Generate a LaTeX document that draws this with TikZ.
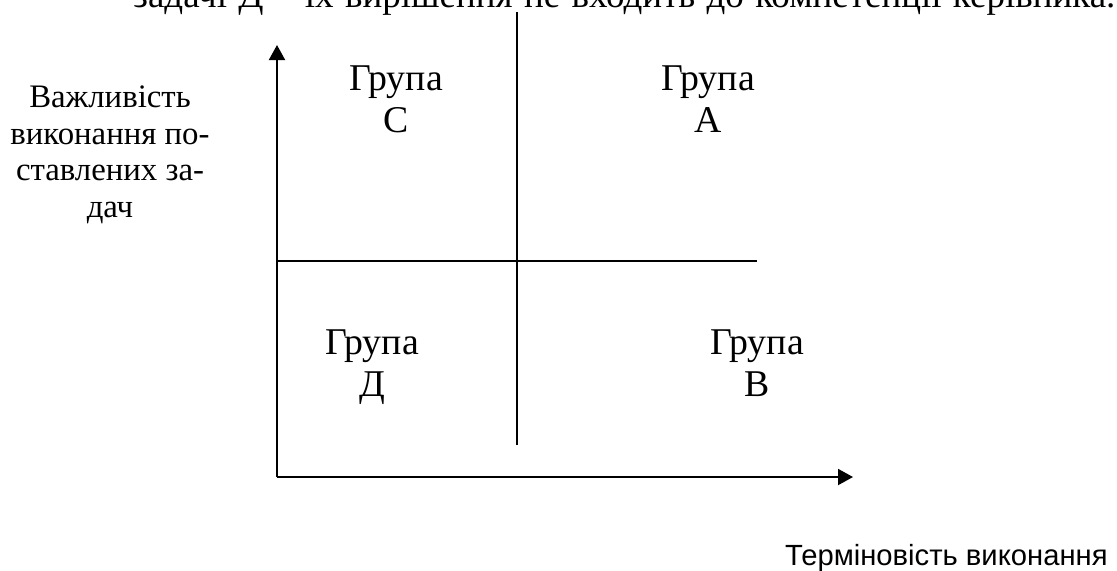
\documentclass[tikz,border=0pt]{standalone}
\usepackage{fontspec}
\setmainfont{Liberation Serif}
\newfontfamily\axisfont{Liberation Sans}
\usetikzlibrary{arrows.meta, positioning}

\tikzset{
  axisline/.style={line width=1pt, -{Triangle[length=7.5pt, width=8pt]}},
  splitline/.style={line width=0.9pt},
  grouplabel/.style={align=center, inner sep=0pt, anchor=base,
    font=\fontsize{18.9}{21}\selectfont},
}

\begin{document}
\begin{tikzpicture}[x=0.5pt, y=-0.5pt]
\useasboundingbox (0,0) rectangle (1117,570);

% line of the text above, cut by the page
\node[anchor=base west, inner sep=0pt, font=\fontsize{18.5}{22}\selectfont] (toptext) at (133,7)
  {\makebox[491pt][s]{задачі Д – їх вирішення не входить до компетенції керівника.}};

% axes
\coordinate (origin) at (277,477);
\coordinate (ytip) at (277,45);
\coordinate (xtip) at (853,477);
\draw[axisline] (origin) -- (ytip);
\draw[axisline] (origin) -- (xtip);

% dividing lines
\coordinate (midtop) at (517,12);
\coordinate (midbot) at (517,445);
\coordinate (midleft) at (277,261);
\coordinate (midright) at (757,261);
\draw[splitline] (midtop) -- (midbot);
\draw[splitline] (midleft) -- (midright);

% groups (base = last line)
\node[grouplabel] (groupC) at (396,132) {Група\\С};
\node[grouplabel] (groupA) at (708,132) {Група\\А};
\node[grouplabel] (groupD) at (372,396) {Група\\Д};
\node[grouplabel] (groupB) at (757,396) {Група\\В};

% axis titles
\node[align=center, inner sep=0pt, anchor=base, font=\fontsize{16.4}{18.25}\selectfont] (ylabel) at (110,217)
  {Важливість\\виконання по-\\ставлених за-\\дач};
\node[anchor=base east, inner sep=0pt, font=\axisfont\fontsize{14.6}{16}\selectfont] (xlabel) at (1108,565)
  {Терміновість виконання};
\end{tikzpicture}
\end{document}
